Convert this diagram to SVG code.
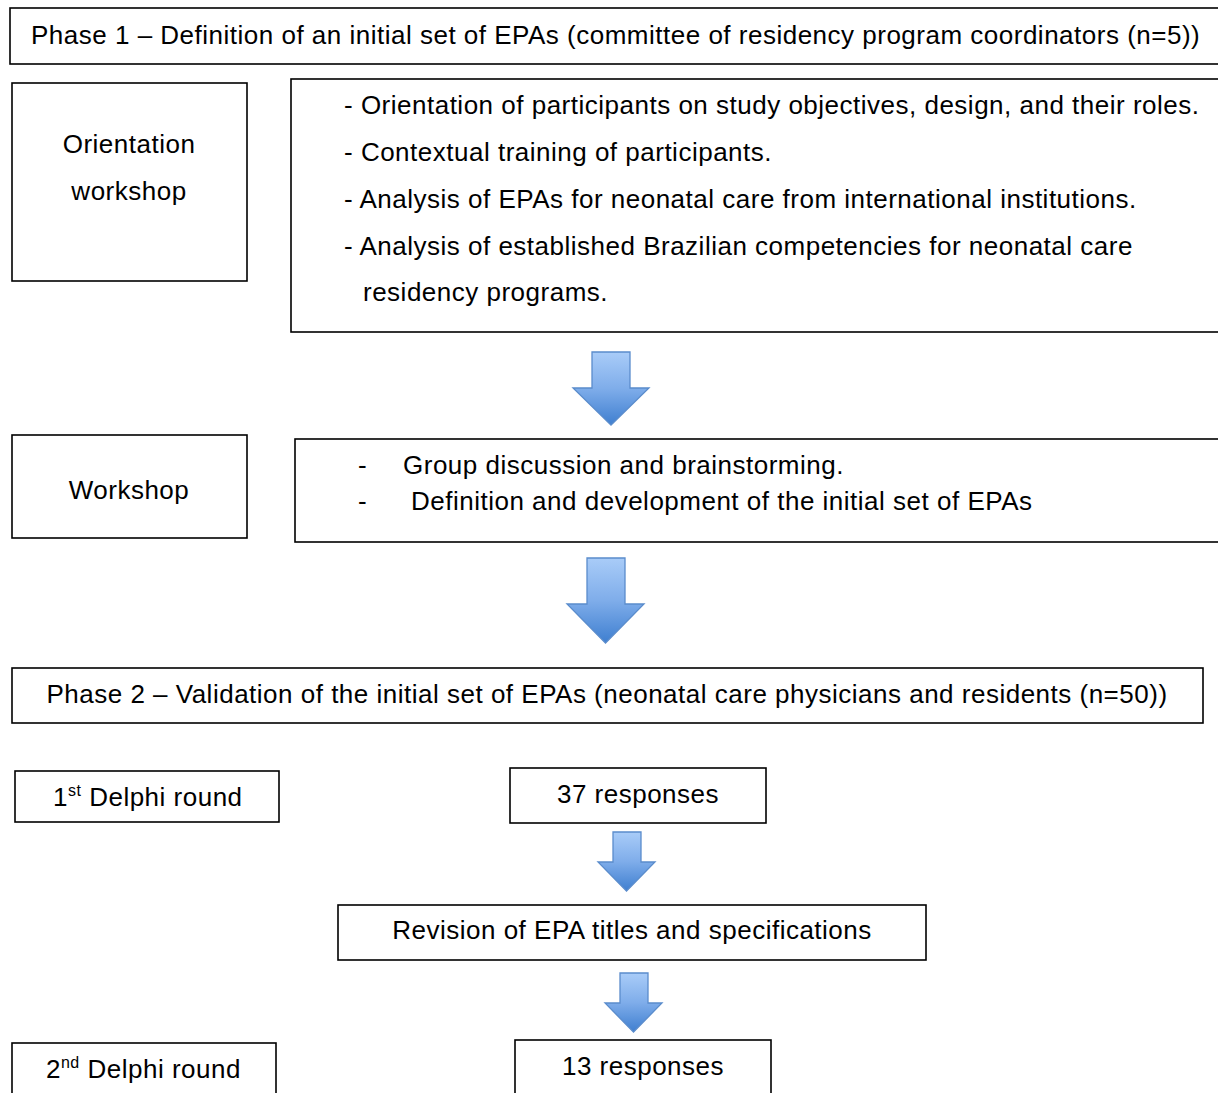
<svg xmlns="http://www.w3.org/2000/svg" width="1218" height="1093" viewBox="0 0 1218 1093">
<defs>
<linearGradient id="ag" x1="0" y1="0" x2="0" y2="1">
<stop offset="0" stop-color="#a9ccf8"/>
<stop offset="0.5" stop-color="#7fadea"/>
<stop offset="1" stop-color="#3f7fd0"/>
</linearGradient>
</defs>
<style>
.box{fill:#fff;stroke:#000;stroke-width:1.6}
text{font-family:"Liberation Sans",Arial,sans-serif;font-size:26px;letter-spacing:0.5px;fill:#000}
.c{text-anchor:middle}
.arr{fill:url(#ag);stroke:#5a8ccc;stroke-width:1.3}
</style>
<rect width="1218" height="1093" fill="#fff"/>
<g id="phase1">
<rect class="box" x="10" y="8" width="1215" height="56"/>
<text x="31" y="44">Phase 1 – Definition of an initial set of EPAs (committee of residency program coordinators (n=5))</text>
</g>
<g id="orientation-workshop">
<rect class="box" x="12" y="83" width="235" height="198"/>
<text class="c" x="129" y="153">Orientation</text>
<text class="c" x="129" y="200">workshop</text>
</g>
<g id="orientation-details">
<rect class="box" x="291" y="79" width="935" height="253"/>
<text x="344" y="114">- Orientation of participants on study objectives, design, and their roles.</text>
<text x="344" y="161">- Contextual training of participants.</text>
<text x="344" y="208">- Analysis of EPAs for neonatal care from international institutions.</text>
<text x="344" y="255">- Analysis of established Brazilian competencies for neonatal care</text>
<text x="363" y="301">residency programs.</text>
</g>
<g id="workshop">
<rect class="box" x="12" y="435" width="235" height="103"/>
<text class="c" x="129" y="499">Workshop</text>
</g>
<g id="workshop-details">
<rect class="box" x="295" y="439" width="930" height="103"/>
<text x="358" y="474">-</text>
<text x="403" y="474">Group discussion and brainstorming.</text>
<text x="358" y="510">-</text>
<text x="411" y="510">Definition and development of the initial set of EPAs</text>
</g>
<g id="phase2">
<rect class="box" x="12" y="668" width="1191" height="55"/>
<text class="c" x="607" y="703">Phase 2 – Validation of the initial set of EPAs (neonatal care physicians and residents (n=50))</text>
</g>
<g id="delphi1">
<rect class="box" x="15" y="771" width="264" height="51"/>
<text x="53" y="806">1<tspan font-size="16" dy="-10">st</tspan><tspan dy="10"> Delphi round</tspan></text>
</g>
<g id="responses37">
<rect class="box" x="510" y="768" width="256" height="55"/>
<text class="c" x="638" y="803">37 responses</text>
</g>
<g id="revision">
<rect class="box" x="338" y="905" width="588" height="55"/>
<text class="c" x="632" y="939">Revision of EPA titles and specifications</text>
</g>
<g id="delphi2">
<rect class="box" x="12" y="1043" width="264" height="60"/>
<text x="46" y="1078">2<tspan font-size="16" dy="-10">nd</tspan><tspan dy="10"> Delphi round</tspan></text>
</g>
<g id="responses13">
<rect class="box" x="515" y="1040" width="256" height="60"/>
<text class="c" x="643" y="1075">13 responses</text>
</g>
<g id="connectors">
<path class="arr" d="M592,352 H630 V388 H649 L611,425 L573,388 H592 Z"/>
<path class="arr" d="M587,558 H625 V604 H644 L605.5,643 L567,604 H587 Z"/>
<path class="arr" d="M613,832 H641 V862 H655 L626.5,891 L598,862 H613 Z"/>
<path class="arr" d="M620,973 H648 V1003 H662 L633.5,1032 L605,1003 H620 Z"/>
</g>
</svg>
